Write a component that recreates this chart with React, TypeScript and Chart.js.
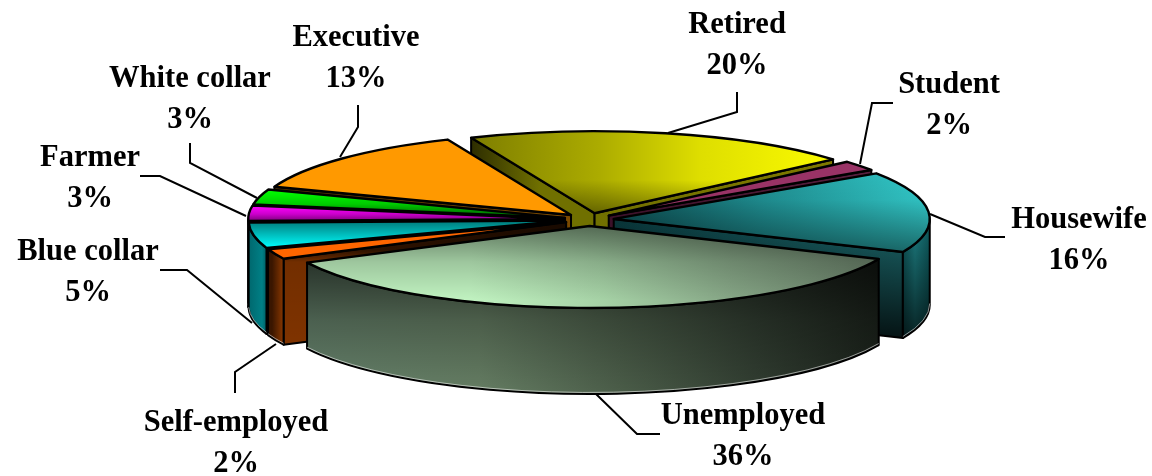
import React, { useEffect, useRef } from "react";
import { Chart, registerables } from "chart.js";

Chart.register(...registerables);

const categories = ["Retired", "Student", "Housewife", "Unemployed", "Self-employed", "Blue collar", "Farmer", "White collar", "Executive"];
const shares = [20, 2, 16, 36, 2, 5, 3, 3, 13];

type Stops = [number, string][];
type Shade = [number, number][];
interface SliceStyle {
  top: Stops; topShade?: Shade;
  rim: Stops; rimShade?: Shade;
  cut: Stops; cutShade?: Shade;
}

const sliceStyles: SliceStyle[] = [
  { top: [[468, "#7c7c00"], [600, "#acac00"], [700, "#dede00"], [800, "#f4f400"], [840, "#fafa00"]], topShade: [[130, 0], [180, 0], [214, 0.42], [240, 0.42]],
    rim: [[468, "#555500"], [840, "#888800"]], cut: [[468, "#2a2a00"], [540, "#707000"], [592, "#707000"], [840, "#807a00"]] },
  { top: [[600, "#993366"], [880, "#993366"]], rim: [[600, "#4c1933"], [880, "#4c1933"]], cut: [[600, "#3a1028"], [880, "#5a2040"]] },
  { top: [[620, "#0e5458"], [760, "#1f8f92"], [930, "#33cccc"]], topShade: [[170, 0], [200, 0.05], [255, 0.5]],
    rim: [[898, "#0a4a4d"], [915, "#1e8488"], [930, "#0e5f62"]], rimShade: [[215, 0], [340, 0.75]],
    cut: [[613, "#0a3c40"], [898, "#1f7478"]], cutShade: [[225, 0.15], [340, 0.85]] },
  { top: [[306, "#c0f2c0"], [470, "#c0f2c0"], [600, "#a6d2a6"], [730, "#86a686"], [880, "#667c66"]], topShade: [[226, 0.5], [262, 0.18], [300, 0]],
    rim: [[306, "#64806a"], [480, "#647c62"], [620, "#4a5c48"], [760, "#303c30"], [880, "#1b221b"]], rimShade: [[262, 0.6], [320, 0.25], [390, 0]],
    cut: [[306, "#333"], [880, "#222"]] },
  { top: [[270, "#ff6600"], [600, "#ff6600"]], rim: [[272, "#3a1600"], [282, "#7f3300"]],
    cut: [[286, "#7f3300"], [320, "#7f3300"], [580, "#3a1600"]], cutShade: [[250, 0.6], [262, 0.1], [345, 0]] },
  { top: [[250, "#00ffff"], [600, "#00ffff"]], topShade: [[222, 0.5], [248, 0]],
    rim: [[250, "#006a70"], [262, "#007f85"], [270, "#004448"]], cut: [[250, "#003335"], [600, "#003335"]] },
  { top: [[248, "#ff00ff"], [600, "#ff00ff"]], topShade: [[206, 0], [214, 0.2], [224, 0.65]],
    rim: [[248, "#006a70"], [262, "#006a70"]], cut: [[248, "#300030"], [600, "#300030"]] },
  { top: [[255, "#00ff00"], [600, "#00ff00"]], topShade: [[190, 0], [204, 0.2], [216, 0.6]],
    rim: [[255, "#007f00"], [262, "#007f00"]], cut: [[255, "#002800"], [600, "#002800"]] },
  { top: [[275, "#ff9900"], [600, "#ff9900"]], rim: [[275, "#7f4c00"], [600, "#7f4c00"]], cut: [[275, "#4c2e00"], [600, "#7f4c00"]] },
];

const labelAnchors = [
  { x: 737, y: 25, line: [[737, 92], [737, 112], [668, 133]] },
  { x: 949, y: 85, line: [[893, 103], [872, 103], [860, 164]] },
  { x: 1079, y: 220, line: [[1005, 237], [985, 237], [930, 214]] },
  { x: 743, y: 416, line: [[660, 434], [637, 434], [596, 394]] },
  { x: 236, y: 423, line: [[235, 393], [235, 372], [276, 344]] },
  { x: 88, y: 252, line: [[160, 270], [187, 270], [252, 323]] },
  { x: 90, y: 158, line: [[140, 176], [160, 176], [246, 216]] },
  { x: 190, y: 79, line: [[190, 143], [190, 163], [257, 198]] },
  { x: 356, y: 38, line: [[358, 105], [358, 127], [340, 157]] },
];

const pieCx = 589;
const pieCy = 219.5;
const pieRx = 316;
const pieRy = 82;
const pieDepth = 86;

function paint(ctx: CanvasRenderingContext2D, stops: Stops, shade?: Shade) {
  const x0 = stops[0][0];
  const x1 = stops[stops.length - 1][0];
  const g = ctx.createLinearGradient(x0, 0, x1, 0);
  stops.forEach(([x, c]) => g.addColorStop((x - x0) / (x1 - x0 || 1), c));
  ctx.fillStyle = g;
  ctx.fill();
  if (shade) {
    const y0 = shade[0][0];
    const y1 = shade[shade.length - 1][0];
    const v = ctx.createLinearGradient(0, y0, 0, y1);
    shade.forEach(([y, a]) => v.addColorStop((y - y0) / (y1 - y0), `rgba(0,0,0,${a})`));
    ctx.fillStyle = v;
    ctx.fill();
  }
}

function drawCut(ctx: CanvasRenderingContext2D, cx: number, cy: number, t: number, st: SliceStyle) {
  const rimX = cx + pieRx * Math.cos(t);
  const rimY = cy + pieRy * Math.sin(t);
  ctx.beginPath();
  ctx.moveTo(cx, cy);
  ctx.lineTo(rimX, rimY);
  ctx.lineTo(rimX, rimY + pieDepth);
  ctx.lineTo(cx, cy + pieDepth);
  ctx.closePath();
  paint(ctx, st.cut, st.cutShade);
  ctx.lineWidth = 2;
  ctx.strokeStyle = "#000";
  ctx.stroke();
}

const pie3d = {
  id: "pie3d",
  beforeDatasetsDraw(chart: any) {
    const ctx: CanvasRenderingContext2D = chart.ctx;
    const arcs: any[] = chart.getDatasetMeta(0).data;
    const order = arcs
      .map((arc, i) => ({ arc, i, mid: (arc.startAngle + arc.endAngle) / 2 }))
      .sort((a, b) => Math.sin(a.mid) - Math.sin(b.mid));
    ctx.save();
    ctx.lineJoin = "round";
    for (const { arc, i, mid } of order) {
      const st = sliceStyles[i];
      const s: number = arc.startAngle;
      const e: number = arc.endAngle;
      const frac = arc.options.offset / arc.outerRadius;
      const cx = pieCx + pieRx * frac * Math.cos(mid);
      const cy = pieCy + pieRy * frac * Math.sin(mid);
      if (Math.cos(s) < 0) drawCut(ctx, cx, cy, s, st);
      if (Math.cos(e) > 0) drawCut(ctx, cx, cy, e, st);
      for (let k = -1; k <= 1; k++) {
        const lo = Math.max(s, 2 * Math.PI * k);
        const hi = Math.min(e, 2 * Math.PI * k + Math.PI);
        if (hi <= lo) continue;
        ctx.beginPath();
        ctx.ellipse(cx, cy, pieRx, pieRy, 0, lo, hi);
        ctx.ellipse(cx, cy + pieDepth, pieRx, pieRy, 0, hi, lo, true);
        ctx.closePath();
        paint(ctx, st.rim, st.rimShade);
        ctx.lineWidth = 2;
        ctx.strokeStyle = "#000";
        ctx.stroke();
        ctx.beginPath();
        ctx.ellipse(cx, cy + pieDepth - 1.5, pieRx, pieRy, 0, lo, hi);
        ctx.lineWidth = 1;
        ctx.strokeStyle = "rgba(255,255,255,0.55)";
        ctx.stroke();
      }
      ctx.beginPath();
      ctx.moveTo(cx, cy);
      ctx.ellipse(cx, cy, pieRx, pieRy, 0, s, e);
      ctx.closePath();
      paint(ctx, st.top, st.topShade);
      ctx.lineWidth = 2.4;
      ctx.strokeStyle = "#000";
      ctx.stroke();
    }
    ctx.restore();
    return false;
  },
  afterDraw(chart: any) {
    const ctx: CanvasRenderingContext2D = chart.ctx;
    ctx.save();
    ctx.strokeStyle = "#000";
    ctx.lineWidth = 2;
    labelAnchors.forEach((a) => {
      ctx.beginPath();
      a.line.forEach(([x, y], j) => (j ? ctx.lineTo(x, y) : ctx.moveTo(x, y)));
      ctx.stroke();
    });
    ctx.fillStyle = "#000";
    ctx.textAlign = "center";
    ctx.textBaseline = "middle";
    ctx.font = "bold 30.5px 'Liberation Serif'";
    labelAnchors.forEach((a, i) => {
      ctx.fillText(categories[i], a.x, a.y);
      ctx.fillText(`${shares[i]}%`, a.x, a.y + 41);
    });
    ctx.restore();
  },
};

export default function App() {
  const ref = useRef<HTMLCanvasElement>(null);
  useEffect(() => {
    document.body.style.margin = "0";
    const chart = new Chart(ref.current!, {
      type: "pie",
      data: {
        labels: categories,
        datasets: [{ data: shares, offset: 18, borderWidth: 0, backgroundColor: sliceStyles.map((s) => s.top[0][1]) }],
      },
      options: {
        responsive: false,
        animation: false,
        rotation: -23,
        plugins: { legend: { display: false }, tooltip: { enabled: false } },
      },
      plugins: [pie3d],
    } as any);
    return () => chart.destroy();
  }, []);
  return <canvas ref={ref} width={1152} height={476} style={{ display: "block", background: "#fff" }} />;
}
